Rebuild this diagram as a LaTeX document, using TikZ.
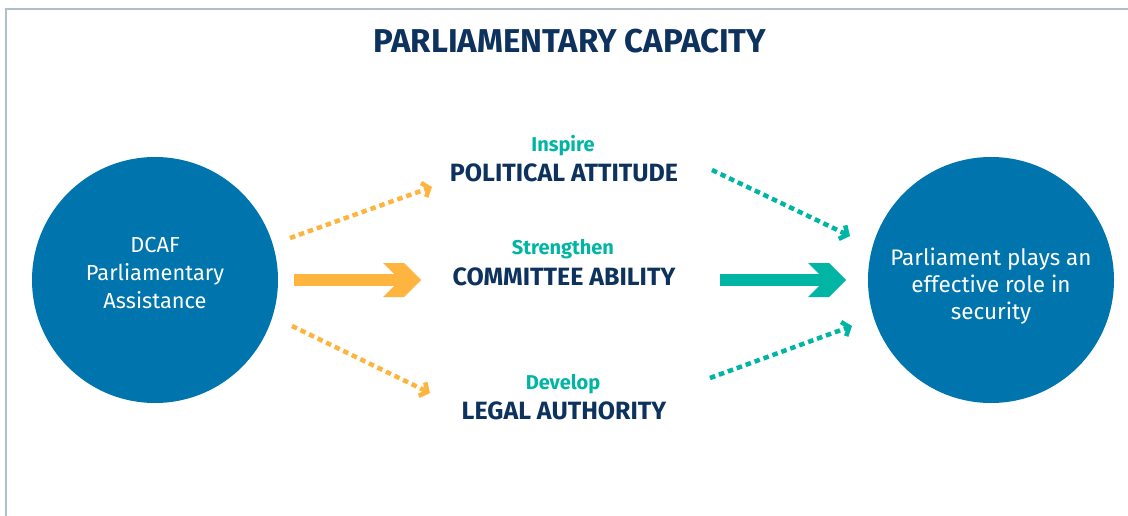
\documentclass[tikz,border=0pt]{standalone}
\usepackage{fontspec}
\setmainfont{Fira Sans}
\usetikzlibrary{arrows.meta}
\definecolor{navy}{RGB}{14,50,94}
\definecolor{cblue}{RGB}{0,116,173}
\definecolor{corange}{RGB}{253,181,64}
\definecolor{cteal}{RGB}{0,181,163}
\definecolor{cgray}{RGB}{176,190,197}
\tikzset{
  bigcircle/.style={circle,fill=cblue,minimum size=246pt,inner sep=0pt},
  circletext/.style={text=white,align=center},
  verbtext/.style={text=cteal,font=\fontsize{20}{24}\selectfont\bfseries},
  captext/.style={text=navy,font=\fontsize{25}{28}\selectfont\bfseries},
  dotarrow/.style={line width=4.5pt,dash pattern=on 5.5pt off 4pt,-{Straight Barb[length=6pt,width=15pt,line width=4.5pt]}},
}
\begin{document}
\begin{tikzpicture}[x=1pt,y=-1pt]
\useasboundingbox (0,0) rectangle (1128,516);
\fill[white] (0,0) rectangle (1128,516);
\draw[cgray,line width=2pt] (6,516) -- (6,9) -- (1128,9);
\node[text=navy,font=\fontsize{33}{36}\selectfont\bfseries] (title) at (570,41) {PARLIAMENTARY CAPACITY};
\node[bigcircle] (left) at (155,280) {};
\node[bigcircle] (right) at (991,280) {};
\node[circletext,font=\fontsize{21.8}{28}\selectfont] (lefttext) at (155,273) {DCAF\\Parliamentary\\Assistance};
\node[circletext,font=\fontsize{22.5}{27}\selectfont] (righttext) at (991,286) {Parliament plays an\\effective role in\\security};
\node[verbtext] (v1) at (563,146) {Inspire};
\node[captext] (c1) at (564,173) {POLITICAL ATTITUDE};
\node[verbtext] (v2) at (563,249) {Strengthen};
\node[captext] (c2) at (564,277) {COMMITTEE ABILITY};
\node[verbtext] (v3) at (563,384) {Develop};
\node[captext] (c3) at (564,411) {LEGAL AUTHORITY};
% coordinates
\coordinate (o1s) at (290,238); \coordinate (o1e) at (432,187);
\coordinate (o3s) at (292,326); \coordinate (o3e) at (430,393);
\coordinate (t1s) at (712,170); \coordinate (t1e) at (850,236);
\coordinate (t3s) at (710,378); \coordinate (t3e) at (852,326);
\coordinate (o2s) at (294,280); \coordinate (o2e) at (421,280);
\coordinate (t2s) at (720,280); \coordinate (t2e) at (846,280);
\draw[dotarrow,corange] (o1s) -- (o1e);
\draw[dotarrow,corange] (o3s) -- (o3e);
\draw[dotarrow,cteal] (t1s) -- (t1e);
\draw[dotarrow,cteal] (t3s) -- (t3e);
\draw[corange,line width=12pt] (o2s) -- ([xshift=-20pt]o2e);
\fill[corange] (o2e) -- ++(-17,-17) -- ++(-21,0) -- ++(17,17) -- ++(-17,17) -- ++(21,0) -- cycle;
\draw[cteal,line width=12pt] (t2s) -- ([xshift=-20pt]t2e);
\fill[cteal] (t2e) -- ++(-17,-17) -- ++(-21,0) -- ++(17,17) -- ++(-17,17) -- ++(21,0) -- cycle;
\end{tikzpicture}
\end{document}
